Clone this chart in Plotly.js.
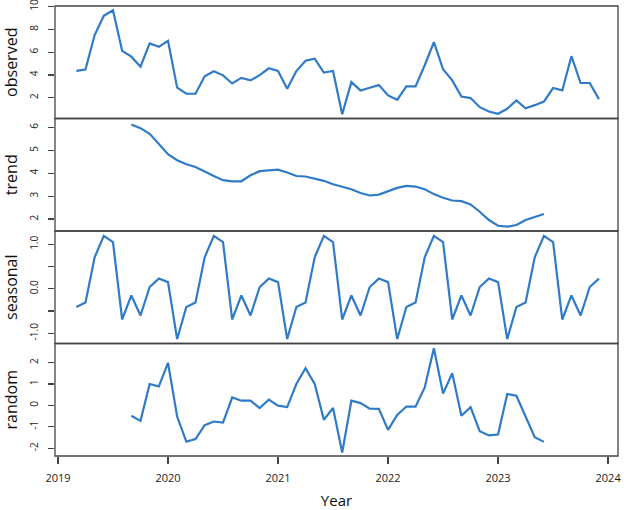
<!DOCTYPE html>
<html>
<head>
<meta charset="utf-8">
<script src="https://cdn.plot.ly/plotly-3.0.1.min.js"></script>
<style>html,body{margin:0;padding:0;background:#fff;}#chart{width:624px;height:510px;}</style>
</head>
<body>
<div id="chart"></div>
<script>
// Monthly series, Mar 2019 .. Dec 2023
var startYear = 2019;
var startMonth = 3; // March
var observed = [4.35,4.47,7.49,9.19,9.67,6.11,5.6,4.72,6.76,6.46,
  6.99,2.88,2.35,2.35,3.88,4.32,3.96,3.25,3.74,3.52,3.98,4.58,
  4.35,2.79,4.34,5.25,5.42,4.20,4.34,0.55,3.37,2.64,2.88,3.11,
  2.20,1.82,3.00,3.00,4.85,6.87,4.49,3.52,2.11,1.97,1.17,0.79,
  0.59,1.03,1.76,1.08,1.35,1.67,2.85,2.64,5.64,3.29,3.29,1.88];
var trend = [null,null,null,null,null,null,6.13,5.97,5.72,5.29,
  4.83,4.57,4.39,4.27,4.06,3.88,3.70,3.65,3.65,3.91,4.09,4.13,
  4.16,4.03,3.88,3.86,3.77,3.67,3.52,3.40,3.30,3.14,3.03,3.07,
  3.22,3.36,3.45,3.42,3.30,3.09,2.93,2.81,2.78,2.64,2.32,1.96,
  1.71,1.67,1.74,1.96,2.09,2.22,null,null,null,null,null,null];
var seasonal = [-0.41,-0.31,0.71,1.19,1.05,-0.69,-0.15,-0.60,0.04,0.23,
  0.15,-1.13,-0.41,-0.31,0.71,1.19,1.05,-0.69,-0.15,-0.60,0.04,0.23,
  0.15,-1.13,-0.41,-0.31,0.71,1.19,1.05,-0.69,-0.15,-0.60,0.04,0.23,
  0.15,-1.13,-0.41,-0.31,0.71,1.19,1.05,-0.69,-0.15,-0.60,0.04,0.23,
  0.15,-1.13,-0.41,-0.31,0.71,1.19,1.05,-0.69,-0.15,-0.60,0.04,0.23];
var random = [null,null,null,null,null,null,-0.48,-0.72,1.00,0.89,
  1.99,-0.52,-1.69,-1.57,-0.92,-0.75,-0.80,0.37,0.22,0.22,-0.12,0.27,
  -0.01,-0.08,1.00,1.74,1.00,-0.67,-0.12,-2.20,0.22,0.11,-0.15,-0.16,
  -1.14,-0.44,-0.05,-0.06,0.84,2.67,0.55,1.50,-0.48,-0.08,-1.20,-1.40,
  -1.36,0.53,0.45,-0.54,-1.48,-1.70,null,null,null,null,null,null];
var xTickVals = [2019,2020,2021,2022,2023,2024];
var panelNames = ["observed","trend","seasonal","random"];

var time = observed.map(function(_, i){ return startYear + (startMonth - 1 + i) / 12; });

var lineColor = "#2f7bc8";
var axisColor = "#444";
var fontFam = "'Open Sans', 'Noto Sans', sans-serif";
var series = [observed, trend, seasonal, random];
var yNames = ["y","y2","y3","y4"];
var traces = series.map(function(s, k){
  return {x: time, y: s, xaxis: "x", yaxis: yNames[k], type: "scatter", mode: "lines",
    line: {color: lineColor, width: 2.2}, connectgaps: false, hoverinfo: "skip"};
});

var domains = [[0.75,1],[0.5,0.75],[0.25,0.5],[0,0.25]];
var ranges = [[0.18,10.04],[1.48,6.39],[-1.23,1.30],[-2.36,2.89]];
var tickSets = [
  {vals:[2,4,6,8,10], text:["2","4","6","8","10"]},
  {vals:[2,3,4,5,6], text:["2","3","4","5","6"]},
  {vals:[-1,-0.5,0,0.5,1], text:["-1.0","","0.0","","1.0"]},
  {vals:[-2,-1,0,1,2], text:["-2","-1","0","1","2"]}
];

var layout = {
  width: 624, height: 510,
  margin: {l: 55, r: 6, t: 6, b: 54},
  paper_bgcolor: "#fff", plot_bgcolor: "#fff",
  showlegend: false,
  font: {family: fontFam, color: "#222"},
  xaxis: {
    anchor: "y4", domain: [0,1], range: [2018.973, 2024.09],
    tickmode: "array", tickvals: xTickVals, ticktext: xTickVals.map(String),
    ticks: "outside", ticklen: 7, tickwidth: 1.2, tickcolor: axisColor,
    showline: false, showgrid: false, zeroline: false,
    tickfont: {size: 11, color: "#222", family: fontFam},
    ticklabelstandoff: 5, ticklabeloverflow: "allow",
    title: {text: "Year", font: {size: 15, color: "#111", family: fontFam}, standoff: 11}
  },
  shapes: domains.map(function(d){
    return {type: "rect", xref: "paper", yref: "paper", x0: 0, x1: 1, y0: d[0], y1: d[1],
      line: {color: axisColor, width: 1.3}, fillcolor: "rgba(0,0,0,0)"};
  })
};

for (var k = 0; k < 4; k++) {
  var key = k === 0 ? "yaxis" : "yaxis" + (k + 1);
  layout[key] = {
    anchor: "x", domain: domains[k], range: ranges[k],
    tickmode: "array", tickvals: tickSets[k].vals, ticktext: tickSets[k].text,
    ticks: "outside", ticklen: 6, tickwidth: 1.2, tickcolor: axisColor,
    tickangle: -90, ticklabelstandoff: 6, ticklabeloverflow: "allow",
    showline: false, showgrid: false, zeroline: false,
    tickfont: {size: 10, color: "#222", family: fontFam},
    title: {text: panelNames[k], font: {size: 16, color: "#111", family: fontFam}, standoff: 7}
  };
}

Plotly.newPlot("chart", traces, layout, {displayModeBar: false, staticPlot: true});
</script>
</body>
</html>
